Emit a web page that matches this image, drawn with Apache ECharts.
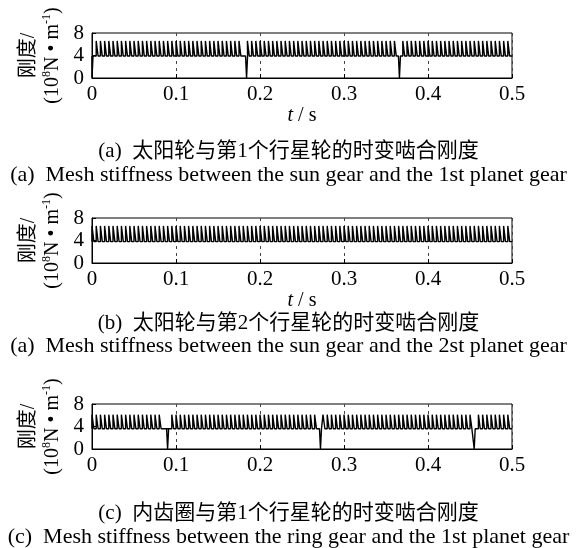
<!DOCTYPE html>
<html><head><meta charset="utf-8">
<script src="https://cdn.jsdelivr.net/npm/echarts@6/dist/echarts.min.js"></script>
<style>html,body{margin:0;padding:0;background:#fff}#c{width:577px;height:548px}</style>
</head><body><div id="c"></div>
<script>
// ---- data ----
const xTicks = [0, 0.1, 0.2, 0.3, 0.4, 0.5];
const yTicks = [0, 4, 8];
const meshPeriod = 0.005;          // tooth mesh period (s), from tooth spacing
const highDuty = 0.45;             // fraction of a period in double-tooth contact
const highStiffness = [6.6, 6.6, 6.1];
const lowStiffness = [3.9, 3.8, 3.6];
const dipTimes = [[0, 0.184, 0.366], [], [0.090, 0.272, 0.455]];
const dipHalfWidth = 0.0012;
const captionsCN = ['(a)  太阳轮与第1个行星轮的时变啮合刚度', '(b)  太阳轮与第2个行星轮的时变啮合刚度', '(c)  内齿圈与第1个行星轮的时变啮合刚度'];
const captionsEN = ['(a)  Mesh stiffness between the sun gear and the 1st planet gear', '(a)  Mesh stiffness between the sun gear and the 2st planet gear', '(c)  Mesh stiffness between the ring gear and the 1st planet gear'];
const showXName = [true, true, false];

// ---- layout ----
const FONT = "'Liberation Serif', 'Times New Roman', 'Noto Sans CJK SC', serif";
const gridTops = [33, 218, 404];
const cnTops = [136, 308, 498];
const enTops = [159, 330, 521];

function buildWave(p) {
  const hi = highStiffness[p], lo = lowStiffness[p], dips = dipTimes[p];
  const tEnd = xTicks[xTicks.length - 1];
  const pts = [];
  const n = Math.round(tEnd / meshPeriod);
  for (let k = 0; k < n; k++) {
    const t0 = k * meshPeriod, t1 = t0 + highDuty * meshPeriod;
    const dip = dips.find(d => d >= t0 && d < t0 + meshPeriod);
    if (dip !== undefined) {
      pts.push([Math.max(0, dip - dipHalfWidth), lo], [dip, 0], [dip + dipHalfWidth, lo]);
      continue;
    }
    pts.push([t0, lo], [t0, hi], [t1, hi], [t1, lo]);
  }
  pts.push([tEnd, lo]);
  return pts;
}

const grids = [], xAxes = [], yAxes = [], series = [], titles = [];
const yNameRich = {
  c: { fontSize: 20, fontFamily: FONT, color: '#000', lineHeight: 24 },
  n: { fontSize: 20, fontFamily: FONT, color: '#000', lineHeight: 24 },
  s: { fontSize: 12, fontFamily: FONT, color: '#000', verticalAlign: 'top', lineHeight: 14 }
};
for (let p = 0; p < 3; p++) {
  grids.push({ left: 92, width: 420, top: gridTops[p], height: 45, show: true, borderColor: '#000', borderWidth: 1, backgroundColor: 'transparent' });
  xAxes.push({
    type: 'value', gridIndex: p, min: xTicks[0], max: xTicks[xTicks.length - 1], interval: xTicks[1] - xTicks[0],
    axisLine: { show: true, lineStyle: { color: '#000', width: 1 } },
    axisTick: { show: true, inside: true, length: 4, lineStyle: { color: '#000' } },
    axisLabel: { fontSize: 21, fontFamily: FONT, color: '#000', margin: 6, formatter: v => String(+v.toFixed(1)) },
    splitLine: { show: true, lineStyle: { color: '#444', type: [3, 4], width: 1 } },
    name: showXName[p] ? '{i|t} / s' : '', nameLocation: 'middle', nameGap: 28,
    nameTextStyle: { fontSize: 20, fontFamily: FONT, color: '#000', rich: { i: { fontSize: 20, fontFamily: FONT, fontStyle: 'italic', color: '#000' } } }
  });
  yAxes.push({
    type: 'value', gridIndex: p, min: yTicks[0], max: yTicks[yTicks.length - 1], interval: yTicks[1] - yTicks[0],
    axisLine: { show: true, lineStyle: { color: '#000', width: 1 } },
    axisTick: { show: true, inside: true, length: 4, lineStyle: { color: '#000' } },
    axisLabel: { fontSize: 21, fontFamily: FONT, color: '#000', margin: 8 },
    splitLine: { show: false },
    name: '{c|刚度/}\n{n|(10}{s|8}{n|N • m}{s|-1}{n|)}',
    nameLocation: 'middle', nameRotate: 90, nameGap: 26,
    nameTextStyle: { rich: yNameRich }
  });
  series.push({
    type: 'line', xAxisIndex: p, yAxisIndex: p, data: buildWave(p), showSymbol: false, symbol: 'none',
    lineStyle: { color: '#000', width: 1.4 }, animation: false, silent: true
  });
  titles.push({ text: captionsCN[p], left: 'center', top: cnTops[p], textStyle: { fontSize: 21, fontWeight: 'normal', fontFamily: FONT, color: '#000' } });
  titles.push({ text: captionsEN[p], left: 'center', top: enTops[p], textStyle: { fontSize: 22, fontWeight: 'normal', fontFamily: FONT, color: '#000' } });
}

const chart = echarts.init(document.getElementById('c'), null, { renderer: 'canvas' });
chart.setOption({
  backgroundColor: '#fff',
  animation: false,
  title: titles,
  grid: grids,
  xAxis: xAxes,
  yAxis: yAxes,
  series: series
});
</script></body></html>
